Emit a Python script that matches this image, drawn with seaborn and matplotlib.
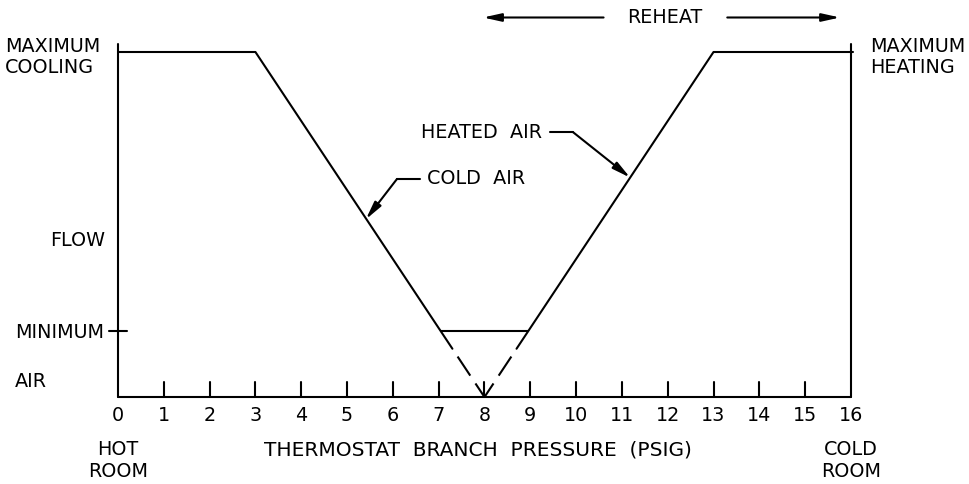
import matplotlib
matplotlib.use("Agg")
import matplotlib.pyplot as plt
import seaborn as sns
import pandas as pd

# Flow vs. thermostat branch pressure (flow in % of maximum)
cold_pressure = [0, 3, 7.3]
cold_flow = [100, 100, 14]
cold_dash_pressure = [7.3, 8]
cold_dash_flow = [14, 0]

heat_pressure = [8.7, 13, 16]
heat_flow = [14, 100, 100]
heat_dash_pressure = [8.7, 8]
heat_dash_flow = [14, 0]

min_pressure = [7.05, 8.95]
min_flow = [19, 19]

tick_values = list(range(0, 17))
tick_labels = [str(v) for v in tick_values]

sns.set_theme(style="white")
plt.rcParams['font.family'] = ['DejaVu Sans']
plt.rcParams['text.color'] = 'black'

fig = plt.figure(figsize=(9.69, 4.85), dpi=100)
ax = fig.add_axes([0, 0, 1, 1])
ax.set_xlim(-2.576, 18.577)
ax.set_ylim(-25.2, 115.36)
ax.axis("off")

lw = 1.5
fs = 13.8

solid = pd.DataFrame({
    "pressure": cold_pressure + heat_pressure + min_pressure,
    "flow": cold_flow + heat_flow + min_flow,
    "part": ["cold"] * 3 + ["heat"] * 3 + ["min"] * 2,
})
sns.lineplot(data=solid, x="pressure", y="flow", units="part", estimator=None,
             sort=False, color="black", lw=lw, ax=ax)

# dashed continuation down to the 8 psig point
for px, fy in [(cold_dash_pressure, cold_dash_flow), (heat_dash_pressure, heat_dash_flow)]:
    sns.lineplot(x=px, y=fy, estimator=None, sort=False, color="black", lw=lw,
                 ax=ax, linestyle=(11, (11, 4.5)))

# axes frame
ax.plot([0, 0], [0, 102.3], color="black", lw=lw)
ax.plot([16, 16], [0, 102.3], color="black", lw=lw)
ax.plot([0, 16], [0, 0], color="black", lw=lw)
ax.plot([-0.2, 0.2], [19, 19], color="black", lw=lw)
ax.plot([16, 16.05], [100, 100], color="black", lw=lw)

# ticks and labels
for v, lab in zip(tick_values, tick_labels):
    if 0 < v < 16:
        ax.plot([v, v], [0, 4.35], color="black", lw=lw)
    ax.text(v, -5.0, lab, ha="center", va="center", fontsize=fs)

ax.text(0, -12.3, "HOT\nROOM", ha="center", va="top", fontsize=fs, linespacing=1.15)
ax.text(16, -12.3, "COLD\nROOM", ha="center", va="top", fontsize=fs, linespacing=1.15)
ax.text(7.86, -15.1, "THERMOSTAT  BRANCH  PRESSURE  (PSIG)", ha="center", va="center",
        fontsize=14.5)

# left labels
ax.text(-2.47, 98.8, "MAXIMUM\nCOOLING", ha="left", va="center", fontsize=fs, linespacing=1.15)
ax.text(-1.48, 45.8, "FLOW", ha="left", va="center", fontsize=fs)
ax.text(-2.25, 19, "MINIMUM", ha="left", va="center", fontsize=fs)
ax.text(-2.25, 4.9, "AIR", ha="left", va="center", fontsize=fs)

# right label
ax.text(16.42, 98.8, "MAXIMUM\nHEATING", ha="left", va="center", fontsize=fs, linespacing=1.15)

# leaders
arrow = dict(arrowstyle="-|>,head_length=0.9,head_width=0.2", color="black", lw=lw,
             shrinkA=0, shrinkB=0)
ax.plot([6.09, 6.59], [63.2, 63.2], color="black", lw=lw)
ax.annotate("", xy=(5.41, 51.5), xytext=(6.09, 63.2), arrowprops=arrow)
ax.text(6.75, 63.6, "COLD  AIR", ha="left", va="center", fontsize=fs)

ax.plot([9.43, 9.93], [76.8, 76.8], color="black", lw=lw)
ax.annotate("", xy=(11.18, 63.6), xytext=(9.93, 76.8), arrowprops=arrow)
ax.text(9.25, 77.1, "HEATED  AIR", ha="right", va="center", fontsize=fs)

# reheat range
ax.annotate("", xy=(7.97, 110), xytext=(10.6, 110), arrowprops=arrow)
ax.annotate("", xy=(15.76, 110), xytext=(13.3, 110), arrowprops=arrow)
ax.text(11.94, 110.3, "REHEAT", ha="center", va="center", fontsize=fs)

fig.savefig("out.png", dpi=100, facecolor="white")
